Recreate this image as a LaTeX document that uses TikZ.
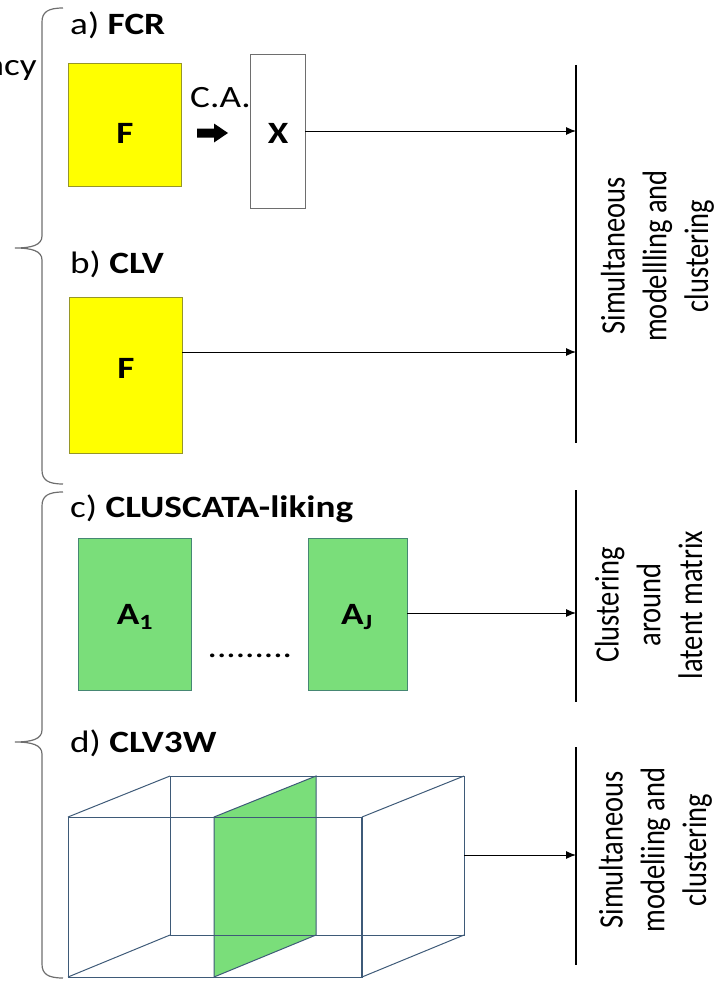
\documentclass[tikz,border=0pt]{standalone}
\usepackage{fontspec}
\setmainfont{Carlito}
\usepackage{graphicx}
\usetikzlibrary{arrows.meta}
\definecolor{yel}{RGB}{255,255,0}
\definecolor{yelb}{RGB}{150,150,40}
\definecolor{grn}{RGB}{122,222,122}
\definecolor{grnb}{RGB}{70,135,115}
\definecolor{cub}{RGB}{62,90,120}
\definecolor{brc}{RGB}{110,110,110}
\definecolor{xbd}{RGB}{110,110,110}
\newcommand{\hx}[1]{\scalebox{1.2}[1]{#1}}
\newcommand{\vtext}[1]{\scalebox{1}[1.2]{\fontsize{28.5}{34.8}\selectfont\setlength{\tabcolsep}{0pt}\begin{tabular}{c}#1\end{tabular}}}
\tikzset{
  lbl/.style={anchor=base west, inner sep=0pt, font=\fontsize{31}{37}\selectfont},
  blab/.style={inner sep=0pt, font=\fontsize{31}{37}\selectfont\bfseries},
  ybox/.style={draw=yelb, fill=yel, line width=0.8pt, inner sep=0pt},
  gbox/.style={draw=grnb, fill=grn, line width=0.8pt, inner sep=0pt},
  xbox/.style={draw=xbd, fill=white, line width=0.8pt, inner sep=0pt},
  res/.style={rotate=90, inner sep=0pt},
  vline/.style={line width=1.2pt},
  arr/.style={-{Latex[length=10pt,width=8pt]}, line width=1pt},
  brace/.style={draw=brc, line width=1.2pt},
  cube/.style={draw=cub, line width=1pt},
}
\begin{document}
\begin{tikzpicture}[x=1pt, y=-1pt]
\useasboundingbox (0,0) rectangle (723,982);

% braces
\draw[brace] (63,8) .. controls (48,8) and (42,12) .. (42,22) -- (42,236)
  .. controls (42,245) and (32,248) .. (15,248)
  .. controls (32,248) and (42,251) .. (42,260) -- (42,470)
  .. controls (42,480) and (48,484) .. (63,484);
\draw[brace] (63,492) .. controls (48,492) and (42,496) .. (42,506) -- (42,730)
  .. controls (42,739) and (32,742) .. (15,742)
  .. controls (32,742) and (42,745) .. (42,754) -- (42,964)
  .. controls (42,974) and (48,978) .. (63,978);
\node[lbl, anchor=base east] (ncy) at (37,75) {\hx{ncy}};

% labels
\node[lbl] (la) at (70,35) {\hx{a) \textbf{FCR}}};
\node[lbl] (lb) at (70,273) {\hx{b) \textbf{CLV}}};
\node[lbl] (lc) at (70,517) {\hx{c) \textbf{CLUSCATA-liking}}};
\node[lbl] (ld) at (70,752) {\hx{d) \textbf{CLV3W}}};

% a) FCR
\node[ybox, minimum width=113pt, minimum height=123pt] (F1) at (124.5,124.5) {};
\node[blab] (F1l) at (125,133) {\hx{F}};
\node[lbl] (ca) at (190,107) {\hx{C.A.}};
\fill (197,128.5) -- (214,128.5) -- (214,123.5) -- (228,133) -- (214,142.5) -- (214,137.5) -- (197,137.5) -- cycle;
\node[xbox, minimum width=55pt, minimum height=154pt] (X) at (277.5,131) {};
\node[blab] (Xl) at (278,133) {\hx{X}};

% b) CLV
\node[ybox, minimum width=113pt, minimum height=156pt] (F2) at (125.5,375) {};
\node[blab] (F2l) at (126,368) {\hx{F}};

% c) CLUSCATA
\node[gbox, minimum width=113pt, minimum height=152pt] (A1) at (134.5,614) {};
\node[blab] (A1l) at (135,617) {\hx{A\textsubscript{1}}};
\node[gbox, minimum width=99pt, minimum height=152pt] (AJ) at (357.5,614) {};
\node[blab] (AJl) at (357,617) {\hx{A\textsubscript{J}}};
\node[lbl, anchor=base] (dots) at (250,657) {\hx{.........}};

% d) cube
\coordinate (f1) at (68,817); \coordinate (f2) at (362,817);
\coordinate (f3) at (362,977); \coordinate (f4) at (68,977);
\coordinate (b1) at (170,776); \coordinate (b2) at (464,776);
\coordinate (b3) at (464,935); \coordinate (b4) at (170,935);
\coordinate (s1) at (214,817); \coordinate (s2) at (316,776);
\coordinate (s3) at (316,935); \coordinate (s4) at (214,977);
\fill[grn] (s1) -- (s2) -- (s3) -- (s4) -- cycle;
\draw[cube] (b1) -- (b2) -- (b3) -- (b4) -- cycle;
\draw[cube] (f1) -- (f2) -- (f3) -- (f4) -- cycle;
\draw[cube] (f1) -- (b1) (f2) -- (b2) (f3) -- (b3) (f4) -- (b4);
\draw[cube] (s1) -- (s2) -- (s3) -- (s4) -- cycle;
\draw[cube, line width=2pt] (f2) -- (f3);
\coordinate (d0) at (464,855);

% right vertical lines
\coordinate (v1t) at (576,65);  \coordinate (v1b) at (576,443);
\coordinate (v2t) at (576,490); \coordinate (v2b) at (576,702);
\coordinate (v3t) at (576,747); \coordinate (v3b) at (576,965);
\draw[vline] (v1t) -- (v1b);
\draw[vline] (v2t) -- (v2b);
\draw[vline] (v3t) -- (v3b);

% arrows
\coordinate (t1) at (576,131);
\coordinate (t2) at (576,352);
\coordinate (t3) at (576,613);
\coordinate (t4) at (576,855);
\draw[arr] (X.east |- t1) -- (t1);
\draw[arr] (F2.east |- t2) -- (t2);
\draw[arr] (AJ.east |- t3) -- (t3);
\draw[arr] (d0) -- (t4);

% right texts
\node[res] (r1) at (658,256) {\vtext{Simultaneous\\modellling and\\clustering}};
\node[res] (r2) at (652,605) {\vtext{Clustering\\around\\latent matrix}};
\node[res] (r3) at (656,850) {\vtext{Simultaneous\\modeliing and\\clustering}};
\end{tikzpicture}
\end{document}
